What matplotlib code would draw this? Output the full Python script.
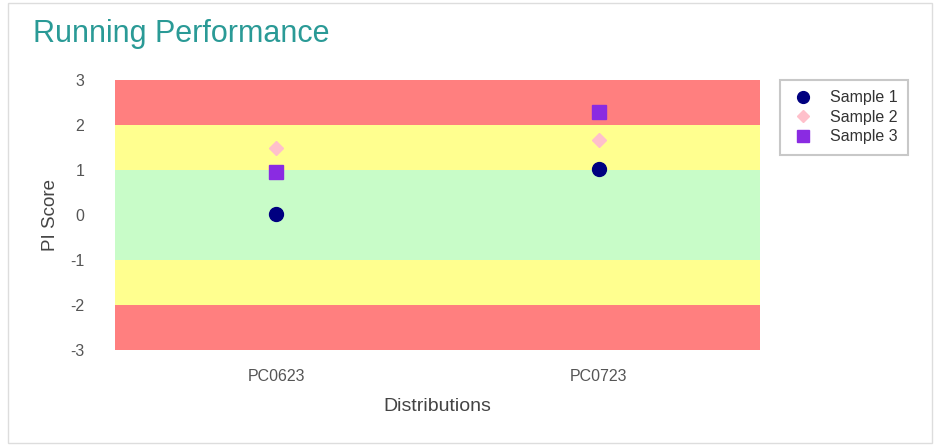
import matplotlib.pyplot as plt
import numpy as np
from matplotlib.patches import Rectangle

plt.rcParams["font.family"] = ["Liberation Sans", "DejaVu Sans"]
plt.rcParams["axes.unicode_minus"] = False

categories = ['PC0623', 'PC0723']
sample1 = [0.02, 1.02]
sample2 = [1.5, 1.67]
sample3 = [0.95, 2.3]

# performance bands (low, high, colour)
band_low = [2, 1, -1, -2, -3]
band_high = [3, 2, 1, -1, -2]
band_colors = ['#ff7f7f', '#ffff8f', '#c8fcc8', '#ffff8f', '#ff7f7f']

fig = plt.figure(figsize=(9.35, 4.47), dpi=100)
fig.patches.append(Rectangle((0.009, 0.008), 0.988, 0.986, transform=fig.transFigure,
                             fill=False, edgecolor='#dddddd', linewidth=1))
ax = fig.add_axes([0.123, 0.217, 0.690, 0.604])

x = np.arange(len(categories))
for lo, hi, c in zip(band_low, band_high, band_colors):
    ax.axhspan(lo, hi, color=c, zorder=0, linewidth=0)

ax.plot(x, sample1, 'o', color='#000080', markersize=10, label='Sample 1', zorder=3)
ax.plot(x, sample2, 'D', color='#ffc0cb', markersize=7, label='Sample 2', zorder=3)
ax.plot(x, sample3, 's', color='#8a2be2', markersize=10, label='Sample 3', zorder=3)

ax.set_xlim(-0.5, 1.5)
ax.set_ylim(-3, 3)
ax.set_xticks(x)
ax.set_xticklabels(categories)
ax.set_yticks(range(-3, 4))
ax.tick_params(length=0, colors='#555555', labelsize=11.5)
ax.tick_params(axis='y', pad=22)
ax.tick_params(axis='x', pad=14)
for s in ax.spines.values():
    s.set_visible(False)

ax.set_xlabel('Distributions', fontsize=14, color='#444444', labelpad=10)
ax.set_ylabel('PI Score', fontsize=13.5, color='#444444', labelpad=8)

fig.text(0.035, 0.905, 'Running Performance', fontsize=22, color='#2a9a96')

leg = ax.legend(loc='upper left', bbox_to_anchor=(1.031, 1.0), borderaxespad=0, fontsize=11.5,
                frameon=True, fancybox=False, edgecolor='#bbbbbb', markerscale=0.85,
                handletextpad=0.9, borderpad=0.65, labelspacing=0.28, handlelength=1.6)
leg.get_frame().set_linewidth(1.5)
for t in leg.get_texts():
    t.set_color('#333333')

fig.savefig('out.png', dpi=100)
